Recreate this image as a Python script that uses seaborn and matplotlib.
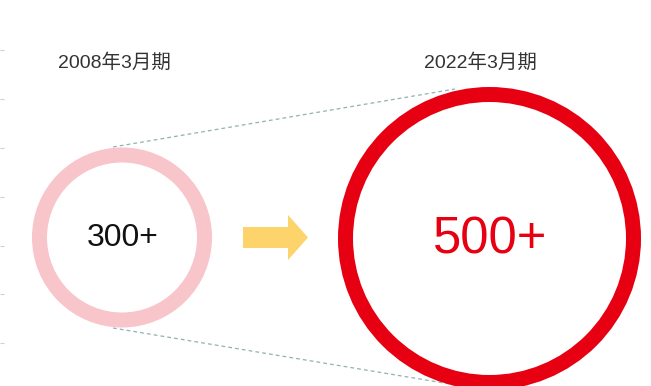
import matplotlib
matplotlib.use("Agg")
import matplotlib.pyplot as plt
from matplotlib.patches import Circle, Polygon
import seaborn as sns
import pandas as pd

# data
periods = ["2008年3月期", "2022年3月期"]
count_labels = ["300+", "500+"]
counts = [300, 500]

sns.set_theme(style="white")
plt.rcParams['font.family'] = ['Liberation Sans', 'Noto Sans CJK JP', 'DejaVu Sans']

fig = plt.figure(figsize=(6.51, 3.86), dpi=100)
ax = fig.add_axes([0, 0, 1, 1])
ax.set_xlim(0, 651)
ax.set_ylim(386, 0)
ax.set_aspect('auto')

# layout (pixel space)
centers = [(122, 237.5), (489.5, 238.5)]
radii = [82.5, 144]
ring_colors = ["#F7C5CA", "#E60012"]
text_colors = ["#111111", "#E60012"]
text_sizes = [23, 36.5]
text_weights = ["medium", "normal"]
label_xy = [(114, 63), (480, 63)]

# connector dashed lines
conn = pd.DataFrame({
    "x": [113, 455, 113, 462],
    "y": [147, 89, 328, 386],
    "seg": ["top", "top", "bottom", "bottom"],
})
sns.lineplot(data=conn, x="x", y="y", units="seg", estimator=None, ax=ax,
             color="#8FB3AF", linewidth=0.9, linestyle=(0, (3, 2.5)),
             sort=False, legend=False)

for (cx, cy), r, col, lbl, tc, ts, tw, (lx, ly), p in zip(
        centers, radii, ring_colors, count_labels, text_colors, text_sizes,
        text_weights, label_xy, periods):
    ax.add_patch(Circle((cx, cy), r, fill=False, edgecolor=col,
                        linewidth=10.8, zorder=3))
    ax.text(cx + 1, cy + 1, lbl, color=tc, fontsize=ts, ha="center",
            va="center", zorder=4)
    ax.text(lx, ly, p, color="#333333", fontsize=14, ha="center",
            va="center")

# arrow
arrow = Polygon([(243, 227), (288, 227), (288, 215), (308, 237.5),
                 (288, 260), (288, 248), (243, 248)],
                closed=True, facecolor="#FDD36C", edgecolor="none", zorder=3)
ax.add_patch(arrow)

# faint left edge ticks
ax.set_yticks([50, 99, 148, 197, 246, 294, 343])
ax.set_xticks([])
ax.tick_params(axis="y", direction="in", length=3, width=0.8,
               color="#D0D0D0", labelleft=False, left=True)
for s in ax.spines.values():
    s.set_visible(False)
ax.grid(False)
ax.set_xlabel("")
ax.set_ylabel("")

fig.savefig("out.png", dpi=100)
